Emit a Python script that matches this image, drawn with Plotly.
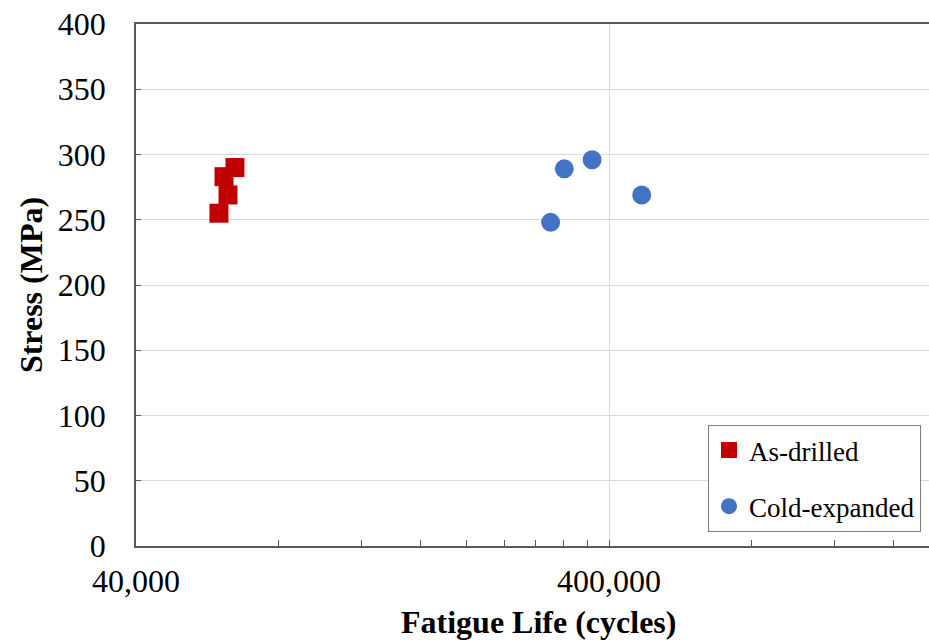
import math
import plotly.graph_objects as go

# Data
as_drilled_life = [64760, 61400, 62600, 59900]
as_drilled_stress = [290, 283, 269, 255]

cold_expanded_life = [321800, 368400, 469000, 301000]
cold_expanded_stress = [289, 296, 269, 248]

x_major_ticks = [40000, 400000, 4000000]
x_major_labels = ["40,000", "400,000", "4,000,000"]
x_minor_ticks = [40000 * k for k in range(2, 10)] + [400000 * k for k in range(2, 10)]

y_ticks = list(range(0, 401, 50))

FONT = "Liberation Serif, Times New Roman, serif"
W, H = 929, 643
ML, MT, MB, MR = 136, 24, 97, 0
DECADE_PX = 473.0
plot_w = W - ML - MR
x_lo = math.log10(40000)
x_hi = x_lo + plot_w / DECADE_PX

fig = go.Figure()
fig.add_trace(go.Scatter(
    x=as_drilled_life, y=as_drilled_stress, mode="markers", name="As-drilled",
    legendgroup="a",
    marker=dict(symbol="square", size=19, color="#C00000"),
))
fig.add_trace(go.Scatter(
    x=cold_expanded_life, y=cold_expanded_stress, mode="markers", name="Cold-expanded",
    legendgroup="b",
    marker=dict(symbol="circle", size=19, color="#4472C4"),
))

fig.update_layout(
    width=W, height=H,
    margin=dict(l=ML, r=MR, t=MT, b=MB, pad=0),
    paper_bgcolor="white", plot_bgcolor="white",
    font=dict(family=FONT, size=32, color="black"),
    showlegend=True,
    legend=dict(
        x=(708 - ML) / plot_w, y=(546 - 425) / (H - MT - MB),
        xanchor="left", yanchor="top",
        bgcolor="white", bordercolor="#7f7f7f", borderwidth=1,
        font=dict(family=FONT, size=27, color="black"),
        tracegroupgap=18,
        traceorder="grouped",
        itemwidth=30,
    ),
    xaxis=dict(
        type="log", range=[x_lo, x_hi],
        tickmode="array", tickvals=x_major_ticks, ticktext=x_major_labels,
        ticks="inside", ticklen=6, tickcolor="#595959",
        showgrid=True, gridcolor="#d9d9d9", gridwidth=1,
        showline=True, linecolor="#595959", linewidth=1.5, mirror=True,
        zeroline=False,
        tickfont=dict(family=FONT, size=32),
        ticklabelstandoff=6,
        minor=dict(tickmode="array", tickvals=x_minor_ticks, ticks="inside",
                   ticklen=6, tickcolor="#595959", showgrid=False),
    ),
    yaxis=dict(
        range=[0, 400], tickmode="array", tickvals=y_ticks,
        ticks="inside", ticklen=5, tickcolor="#595959",
        showgrid=True, gridcolor="#d9d9d9", gridwidth=1,
        showline=True, linecolor="#595959", linewidth=1.5,
        zeroline=False,
        tickfont=dict(family=FONT, size=32),
        ticklabelstandoff=22,
        title=dict(text="<b>Stress (MPa)</b>", font=dict(family=FONT, size=32), standoff=6),
    ),
    annotations=[dict(
        text="<b>Fatigue Life (cycles)</b>", xref="paper", yref="paper",
        x=(538 - ML) / plot_w, y=-(622 - 546) / (H - MT - MB),
        xanchor="center", yanchor="middle", showarrow=False,
        font=dict(family=FONT, size=32, color="black"),
    )],
)

fig.write_html("out.html")
